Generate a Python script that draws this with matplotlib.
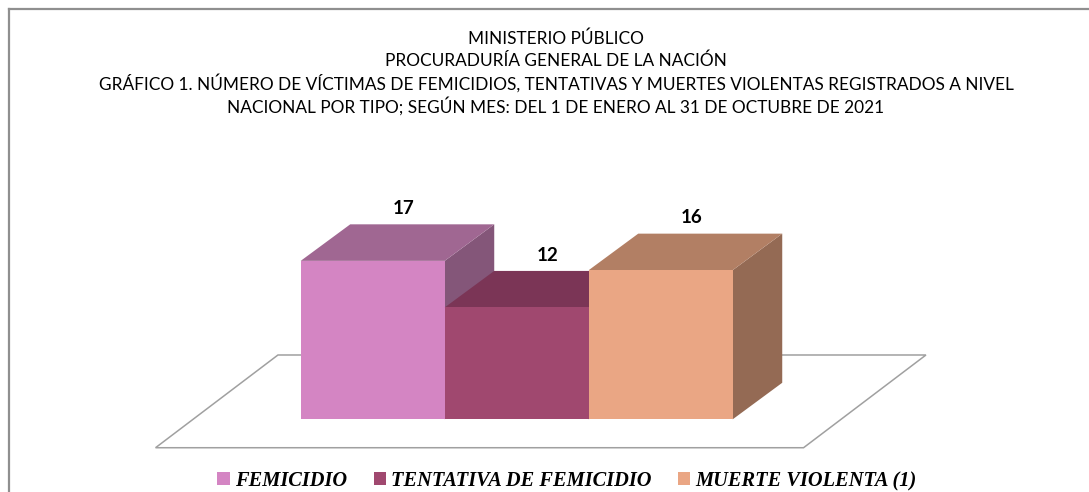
import matplotlib
matplotlib.use("Agg")
import matplotlib.pyplot as plt
from matplotlib.patches import Polygon, Patch
from matplotlib.lines import Line2D
from matplotlib.font_manager import FontProperties

# ---- data ----
categories = ["FEMICIDIO", "TENTATIVA DE FEMICIDIO", "MUERTE VIOLENTA (1)"]
values = [17, 12, 16]
title_lines = [
    "MINISTERIO PÚBLICO",
    "PROCURADURÍA GENERAL DE LA NACIÓN",
    "GRÁFICO 1. NÚMERO DE VÍCTIMAS DE FEMICIDIOS, TENTATIVAS Y MUERTES VIOLENTAS REGISTRADOS A NIVEL",
    "NACIONAL POR TIPO; SEGÚN MES: DEL 1 DE ENERO AL 31 DE OCTUBRE DE 2021",
]

# ---- style ----
front_colors = ["#D485C3", "#A0486F", "#EAA684"]
top_colors = ["#A06792", "#7B3556", "#B27F64"]
side_colors = ["#845679", "#6A2E4A", "#946A54"]

W, H = 1089, 492
fig = plt.figure(figsize=(W / 100, H / 100), dpi=100)
ax = fig.add_axes([0, 0, 1, 1])
x0_px, y0_px, xs, ys = 300.7, 419.3, 144.0, 9.32
ax.set_xlim((0 - x0_px) / xs, (W - x0_px) / xs)
ax.set_ylim((y0_px - H) / ys, (y0_px - 0) / ys)
ax.axis("off")

dx, dy = 0.344, 3.92  # oblique depth offset

# floor
fb, ff = 6.9, -3.05
fl_back, fr_back, fdx = -0.158, 4.342, 0.85
floor = Polygon([(fl_back, fb), (fr_back, fb), (fr_back - fdx, ff), (fl_back - fdx, ff)],
                closed=True, facecolor="white", edgecolor="#A0A0A0", lw=1.1, zorder=1)
ax.add_patch(floor)

for i, v in enumerate(values):
    x = i
    side = Polygon([(x + 1, 0), (x + 1, v), (x + 1 + dx, v + dy), (x + 1 + dx, dy)],
                   closed=True, facecolor=side_colors[i], edgecolor="none", zorder=2 + i)
    top = Polygon([(x, v), (x + 1, v), (x + 1 + dx, v + dy), (x + dx, v + dy)],
                  closed=True, facecolor=top_colors[i], edgecolor="none", zorder=2 + i)
    front = Polygon([(x, 0), (x + 1, 0), (x + 1, v), (x, v)],
                    closed=True, facecolor=front_colors[i], edgecolor="none", zorder=2 + i)
    ax.add_patch(side)
    ax.add_patch(top)
    ax.add_patch(front)
    ax.text(x + 0.5 + 0.215, v + dy + 1.7, str(v), ha="center", va="center",
            fontsize=13.5, fontweight="bold", family=["Liberation Sans Narrow", "Lato"],
            color="black", zorder=10)

# title
cx = 556 / W
ys_px = [39, 61.2, 83.5, 105.7]
texts = []
for line, yp in zip(title_lines, ys_px):
    t = fig.text(cx, 1 - yp / H, line, ha="center", va="center", fontsize=12,
                 family=["Liberation Sans Narrow", "Lato"], color="black")
    texts.append(t)
fig.canvas.draw()
r = fig.canvas.get_renderer()
w3 = texts[2].get_window_extent(r).width
fs = 12 * 910 / w3
for t in texts:
    t.set_fontsize(fs)

# legend
handles = [Patch(facecolor=c, edgecolor="none") for c in front_colors]
lp = FontProperties(family="Liberation Serif", weight="bold", style="italic", size=14.7)
leg = ax.legend(handles, categories, loc="center", bbox_to_anchor=(567 / W, 1 - 481 / H),
                bbox_transform=fig.transFigure, ncol=3, frameon=False, prop=lp,
                handlelength=0.6, handleheight=0.6, handletextpad=0.25,
                columnspacing=1.3, borderpad=0, borderaxespad=0)

# border
fig.add_artist(Line2D([8.5 / W, 1], [1 - 9 / H, 1 - 9 / H], transform=fig.transFigure,
                      color="#8F8F8F", lw=1.6))
fig.add_artist(Line2D([8.5 / W, 8.5 / W], [0, 1 - 9 / H], transform=fig.transFigure,
                      color="#8F8F8F", lw=1.6))

fig.savefig("out.png", dpi=100)
